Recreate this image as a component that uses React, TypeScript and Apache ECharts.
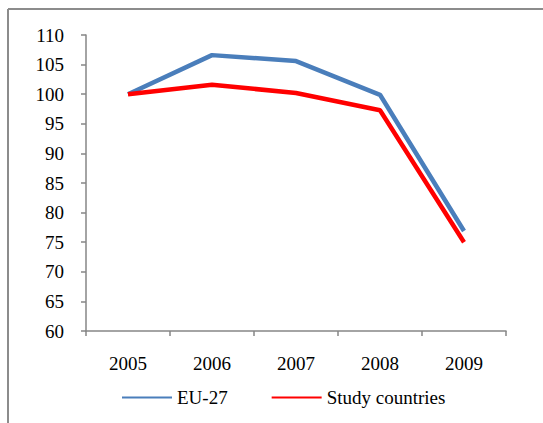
import React, { useEffect, useRef } from "react";
import * as echarts from "echarts";

const years = ["2005", "2006", "2007", "2008", "2009"];
const eu27 = [100, 106.6, 105.6, 99.9, 76.9];
const studyCountries = [100, 101.6, 100.2, 97.3, 75.0];
const seriesNames = ["EU-27", "Study countries"];

const FONT = "Liberation Serif";

export default function App() {
  const ref = useRef<HTMLDivElement>(null);
  useEffect(() => {
    if (!ref.current) return;
    const chart = echarts.init(ref.current, undefined, { renderer: "svg" });
    chart.setOption({
      animation: false,
      backgroundColor: "#ffffff",
      textStyle: { fontFamily: FONT },
      grid: { left: 86, right: 37, top: 35, bottom: 92 },
      xAxis: {
        type: "category",
        data: years,
        boundaryGap: true,
        axisLine: { lineStyle: { color: "#868686", width: 1.5 } },
        axisTick: { show: true, length: 5, lineStyle: { color: "#868686", width: 1.5 } },
        axisLabel: { color: "#000", fontSize: 19, fontFamily: FONT, margin: 23 },
      },
      yAxis: {
        type: "value",
        min: 60,
        max: 110,
        interval: 5,
        axisLine: { show: true, lineStyle: { color: "#868686", width: 1.5 } },
        axisTick: { show: true, length: 5, lineStyle: { color: "#868686", width: 1.5 } },
        splitLine: { show: false },
        axisLabel: { color: "#000", fontSize: 19, fontFamily: FONT, margin: 22 },
      },
      legend: {
        left: 117,
        top: 383,
        itemWidth: 50,
        itemHeight: 2,
        itemGap: 44,
        icon: "rect",
        textStyle: { color: "#000", fontSize: 19, fontFamily: FONT },
        data: seriesNames,
      },
      graphic: [
        { type: "line", shape: { x1: 8, y1: 9, x2: 543, y2: 9 }, style: { stroke: "#8c8c8c", lineWidth: 2 } },
        { type: "line", shape: { x1: 8, y1: 9, x2: 8, y2: 423 }, style: { stroke: "#8c8c8c", lineWidth: 2 } },
      ],
      series: [
        {
          name: seriesNames[0],
          type: "line",
          data: eu27,
          symbol: "none",
          itemStyle: { color: "#4a7ebb" },
          lineStyle: { color: "#4a7ebb", width: 4.5 },
        },
        {
          name: seriesNames[1],
          type: "line",
          data: studyCountries,
          symbol: "none",
          itemStyle: { color: "#ff0000" },
          lineStyle: { color: "#ff0000", width: 4.5 },
        },
      ],
    });
    return () => chart.dispose();
  }, []);
  return <div ref={ref} style={{ position: "fixed", left: 0, top: 0, width: 543, height: 423 }} />;
}
